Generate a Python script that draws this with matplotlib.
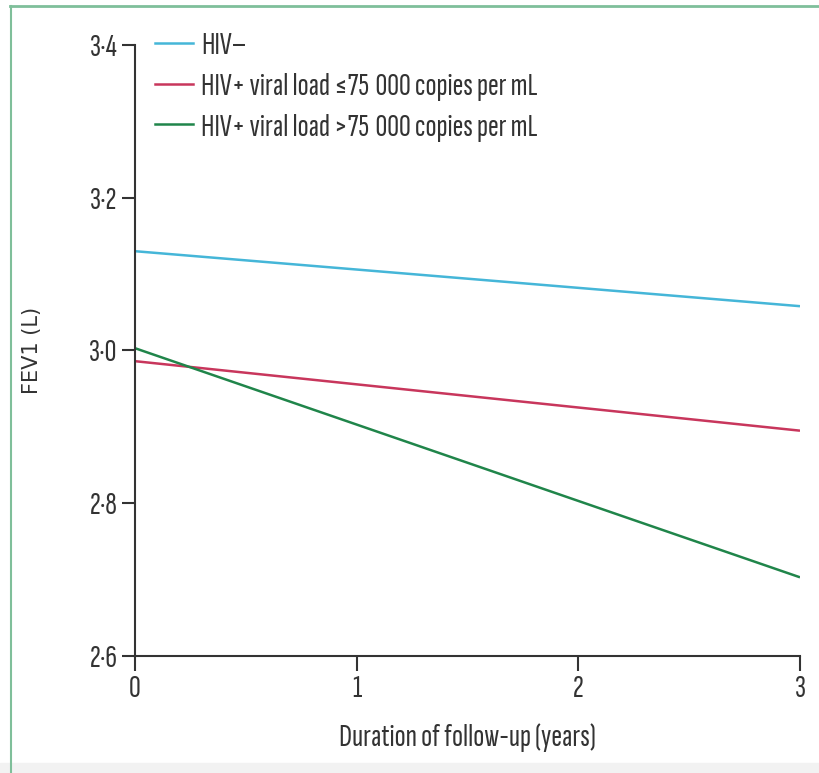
import matplotlib
matplotlib.use("Agg")
import matplotlib.pyplot as plt
from matplotlib.lines import Line2D
from matplotlib.patches import Rectangle

# FEV1 decline over follow-up, by HIV status and viral load
years = [0, 3]
hiv_neg = [3.13, 3.058]
hiv_low_vl = [2.986, 2.895]
hiv_high_vl = [3.003, 2.703]

series_labels = [
    "HIV\u2013",
    "HIV+ viral load \u226475\u2009000 copies per mL",
    "HIV+ viral load >75\u2009000 copies per mL",
]
series_colors = ["#45b6d8", "#c8365c", "#20854a"]

x_ticks = [0, 1, 2, 3]
y_ticks = [2.6, 2.8, 3.0, 3.2, 3.4]
y_tick_labels = ["2\u00b76", "2\u00b78", "3\u00b70", "3\u00b72", "3\u00b74"]

narrow = ["Sofia Sans Extra Condensed", "DejaVu Sans"]
ink = "#333333"
fsize = 23.5

fig = plt.figure(figsize=(8.2, 7.73), dpi=100)
ax = fig.add_axes([0.1646, 0.1514, 0.811, 0.7904])

for ys, lab, col in zip([hiv_neg, hiv_low_vl, hiv_high_vl], series_labels, series_colors):
    ax.plot(years, ys, color=col, lw=1.8, label=lab, solid_capstyle="butt")

ax.set_xlim(0, 3)
ax.set_ylim(2.6, 3.4)
ax.set_xticks(x_ticks)
ax.set_xticklabels([str(t) for t in x_ticks], family=narrow, fontsize=fsize, color=ink)
ax.set_yticks(y_ticks)
ax.set_yticklabels(y_tick_labels, family=narrow, fontsize=fsize, color=ink)

for side in ["top", "right"]:
    ax.spines[side].set_visible(False)
for side in ["left", "bottom"]:
    ax.spines[side].set_linewidth(1.5)
    ax.spines[side].set_color(ink)
ax.tick_params(axis="y", direction="out", length=9.5, width=1.5, color=ink, pad=3)
ax.tick_params(axis="x", direction="out", length=11, width=1.5, color=ink, pad=3)

ax.set_xlabel("Duration of follow-up (years)", family=narrow, fontsize=fsize, color=ink)
ax.xaxis.set_label_coords(0.5, -0.11)
ax.set_ylabel("FEV1 (L)", family="DejaVu Sans", fontsize=15, color=ink)
ax.yaxis.set_label_coords(-0.14, 0.5)

handles = [Line2D([0], [0], color=c, lw=1.8) for c in series_colors]
leg = ax.legend(handles, series_labels, loc="upper left", bbox_to_anchor=(0.030, 1.022),
                frameon=False, borderpad=0, borderaxespad=0, handlelength=1.17,
                handletextpad=0.25, labelspacing=0.36, prop={"family": narrow, "size": fsize})
for t in leg.get_texts():
    t.set_color(ink)

# panel frame: green rule on top and left, grey strip at the bottom
fig.add_artist(Line2D([10 / 820, 1], [1 - 6 / 773, 1 - 6 / 773], color="#7fbf9a",
                      lw=2, transform=fig.transFigure))
fig.add_artist(Line2D([11 / 820, 11 / 820], [0, 1 - 6 / 773], color="#7fbf9a",
                      lw=1.5, transform=fig.transFigure))
fig.add_artist(Rectangle((0, 0), 1, 10 / 773, color="#f2f2f2", transform=fig.transFigure,
                         zorder=-1))

fig.savefig("out.png", dpi=100)
